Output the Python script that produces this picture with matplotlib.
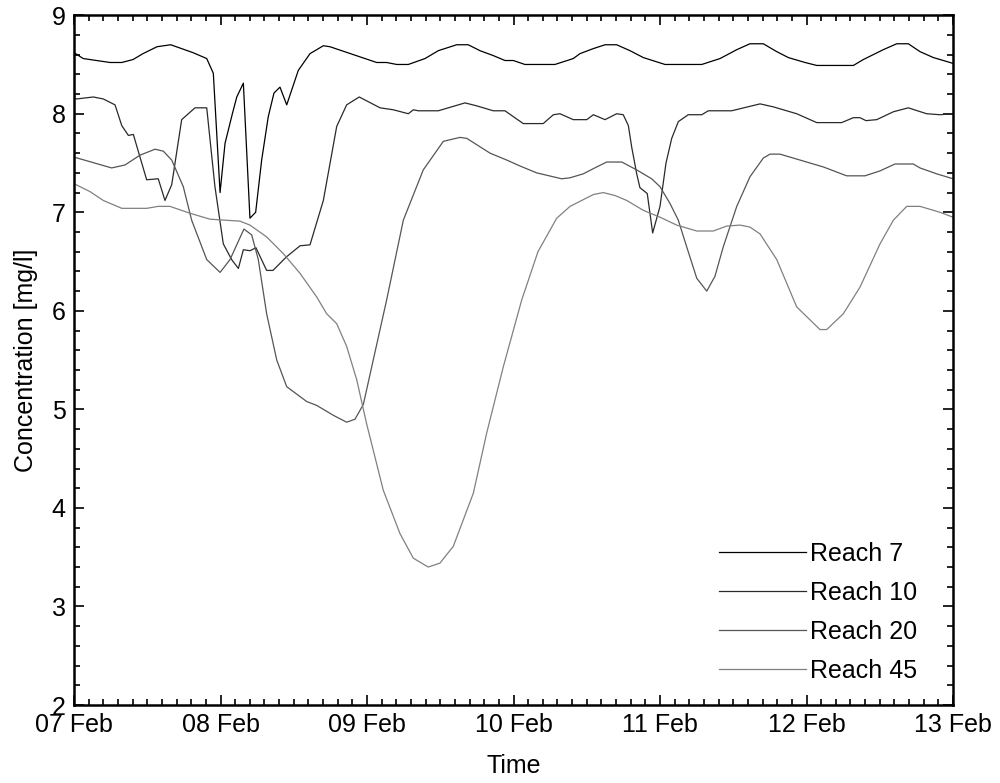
import matplotlib
matplotlib.use("Agg")
import matplotlib.pyplot as plt
from matplotlib.ticker import MultipleLocator

plt.rcParams['font.family'] = ['Liberation Sans', 'DejaVu Sans']

# time in days since 07 Feb 00:00
day_labels = ["07 Feb", "08 Feb", "09 Feb", "10 Feb", "11 Feb", "12 Feb", "13 Feb"]

t7 = [0.0, 0.063, 0.246, 0.326, 0.403, 0.471, 0.567, 0.660, 0.812, 0.906, 0.951,
      0.997, 1.031, 1.081, 1.111, 1.156, 1.201, 1.240, 1.281, 1.326, 1.365, 1.406,
      1.452, 1.531, 1.611, 1.702, 1.747, 2.066, 2.134, 2.203, 2.282, 2.396, 2.487,
      2.612, 2.691, 2.771, 2.862, 2.942, 2.999, 3.078, 3.283, 3.408, 3.454, 3.543,
      3.625, 3.704, 3.795, 3.886, 4.034, 4.285, 4.410, 4.524, 4.614, 4.705, 4.797,
      4.876, 4.990, 5.070, 5.320, 5.388, 5.524, 5.616, 5.695, 5.775, 5.866, 5.980, 6.0]
reach7 = [8.62, 8.56, 8.52, 8.52, 8.55, 8.61, 8.68, 8.70, 8.62, 8.56, 8.41,
          7.20, 7.70, 8.00, 8.17, 8.31, 6.94, 7.00, 7.53, 7.97, 8.21, 8.27,
          8.09, 8.44, 8.61, 8.69, 8.68, 8.52, 8.52, 8.50, 8.50, 8.56, 8.64,
          8.70, 8.70, 8.64, 8.59, 8.54, 8.54, 8.50, 8.50, 8.56, 8.61, 8.66,
          8.70, 8.70, 8.64, 8.57, 8.50, 8.50, 8.56, 8.65, 8.71, 8.71, 8.63,
          8.57, 8.52, 8.49, 8.49, 8.55, 8.65, 8.71, 8.71, 8.63, 8.57, 8.52, 8.51]

t10 = [0.0, 0.018, 0.132, 0.200, 0.280, 0.326, 0.371, 0.405, 0.496, 0.575, 0.621,
       0.667, 0.735, 0.826, 0.906, 0.962, 1.019, 1.076, 1.122, 1.156, 1.201, 1.242,
       1.315, 1.358, 1.452, 1.543, 1.611, 1.702, 1.793, 1.861, 1.947, 2.089, 2.180,
       2.282, 2.316, 2.350, 2.487, 2.669, 2.749, 2.862, 2.942, 2.999, 3.067, 3.203,
       3.272, 3.317, 3.408, 3.500, 3.545, 3.625, 3.704, 3.749, 3.784, 3.807, 3.841,
       3.863, 3.913, 3.950, 4.0, 4.041, 4.080, 4.125, 4.193, 4.285, 4.330, 4.489,
       4.683, 4.773, 4.933, 5.070, 5.240, 5.320, 5.365, 5.406, 5.479, 5.593, 5.695,
       5.820, 5.911, 6.0]
reach10 = [8.16, 8.15, 8.17, 8.15, 8.09, 7.88, 7.78, 7.79, 7.33, 7.34, 7.12,
           7.28, 7.94, 8.06, 8.06, 7.26, 6.68, 6.52, 6.43, 6.62, 6.61, 6.64,
           6.41, 6.41, 6.55, 6.66, 6.67, 7.12, 7.87, 8.09, 8.17, 8.06, 8.04,
           8.00, 8.04, 8.03, 8.03, 8.11, 8.08, 8.03, 8.03, 7.97, 7.90, 7.90,
           7.99, 8.00, 7.94, 7.94, 7.99, 7.94, 8.00, 7.99, 7.88, 7.66, 7.39,
           7.25, 7.19, 6.79, 7.06, 7.50, 7.75, 7.92, 7.99, 7.99, 8.03, 8.03,
           8.10, 8.07, 8.00, 7.91, 7.91, 7.96, 7.96, 7.93, 7.94, 8.02, 8.06,
           8.00, 7.99, 8.00]

t20 = [0.0, 0.257, 0.348, 0.451, 0.553, 0.610, 0.667, 0.746, 0.803, 0.906, 0.997,
       1.065, 1.160, 1.213, 1.258, 1.315, 1.384, 1.452, 1.588, 1.657, 1.770, 1.861,
       1.918, 1.975, 2.134, 2.248, 2.384, 2.521, 2.635, 2.681, 2.840, 2.954, 3.044,
       3.158, 3.329, 3.386, 3.476, 3.568, 3.636, 3.739, 3.841, 3.943, 4.0, 4.068,
       4.125, 4.182, 4.251, 4.319, 4.375, 4.432, 4.524, 4.614, 4.705, 4.751, 4.819,
       4.910, 5.115, 5.274, 5.399, 5.502, 5.604, 5.729, 5.775, 5.889, 6.0]
reach20 = [7.56, 7.45, 7.48, 7.58, 7.64, 7.62, 7.53, 7.26, 6.92, 6.52, 6.39,
           6.52, 6.83, 6.77, 6.52, 5.97, 5.50, 5.23, 5.08, 5.04, 4.94, 4.87,
           4.90, 5.05, 6.11, 6.92, 7.43, 7.72, 7.76, 7.75, 7.60, 7.53, 7.47,
           7.40, 7.34, 7.35, 7.39, 7.46, 7.51, 7.51, 7.43, 7.34, 7.26, 7.09,
           6.92, 6.65, 6.33, 6.20, 6.35, 6.65, 7.06, 7.36, 7.55, 7.59, 7.59,
           7.55, 7.46, 7.37, 7.37, 7.42, 7.49, 7.49, 7.45, 7.39, 7.34]

t45 = [0.0, 0.109, 0.200, 0.326, 0.496, 0.575, 0.655, 0.792, 0.928, 1.133, 1.201,
       1.315, 1.429, 1.543, 1.657, 1.725, 1.793, 1.861, 1.930, 1.998, 2.111, 2.225,
       2.316, 2.418, 2.498, 2.589, 2.726, 2.817, 2.930, 3.056, 3.167, 3.295, 3.386,
       3.545, 3.613, 3.693, 3.773, 3.886, 4.0, 4.114, 4.251, 4.364, 4.455, 4.546,
       4.614, 4.683, 4.797, 4.933, 5.092, 5.138, 5.251, 5.365, 5.502, 5.593, 5.684,
       5.775, 5.911, 6.0]
reach45 = [7.29, 7.21, 7.12, 7.04, 7.04, 7.06, 7.06, 6.99, 6.93, 6.91, 6.87,
           6.75, 6.58, 6.38, 6.14, 5.97, 5.87, 5.64, 5.30, 4.85, 4.18, 3.74,
           3.49, 3.40, 3.44, 3.61, 4.15, 4.76, 5.43, 6.11, 6.60, 6.94, 7.06,
           7.18, 7.20, 7.17, 7.12, 7.02, 6.95, 6.87, 6.81, 6.81, 6.86, 6.87,
           6.85, 6.78, 6.52, 6.04, 5.81, 5.81, 5.97, 6.24, 6.68, 6.92, 7.06,
           7.06, 7.00, 6.95]

fs = 18

fig = plt.figure(figsize=(10, 7.83), dpi=100)
ax = fig.add_axes([0.074, 0.0996, 0.879, 0.881])

ax.plot(t7, reach7, color="#000000", lw=0.9, label="Reach 7")
ax.plot(t10, reach10, color="#2a2a2a", lw=0.9, label="Reach 10")
ax.plot(t20, reach20, color="#555555", lw=0.9, label="Reach 20")
ax.plot(t45, reach45, color="#808080", lw=0.9, label="Reach 45")

ax.set_xlim(0, 6)
ax.set_ylim(2, 9)
ax.set_xticks(range(7))
ax.set_xticklabels(day_labels)
ax.xaxis.set_minor_locator(MultipleLocator(0.1))
ax.yaxis.set_minor_locator(MultipleLocator(0.2))
ax.tick_params(which="both", direction="in", top=True, right=True, labelsize=fs)
ax.tick_params(which="major", length=7, width=1.2)
ax.tick_params(which="minor", length=4, width=1.2)
ax.tick_params(axis="x", pad=6)
ax.tick_params(axis="y", pad=6)
for s in ax.spines.values():
    s.set_linewidth(1.8)

ax.set_xlabel("Time", fontsize=fs, labelpad=12)
ax.set_ylabel("Concentration [mg/l]", fontsize=fs, labelpad=10)

ax.legend(loc="lower right", frameon=False, fontsize=fs, handlelength=3.5,
          handletextpad=0.15, labelspacing=0.6, bbox_to_anchor=(0.985, 0.0))

fig.savefig("out.png", dpi=100)
